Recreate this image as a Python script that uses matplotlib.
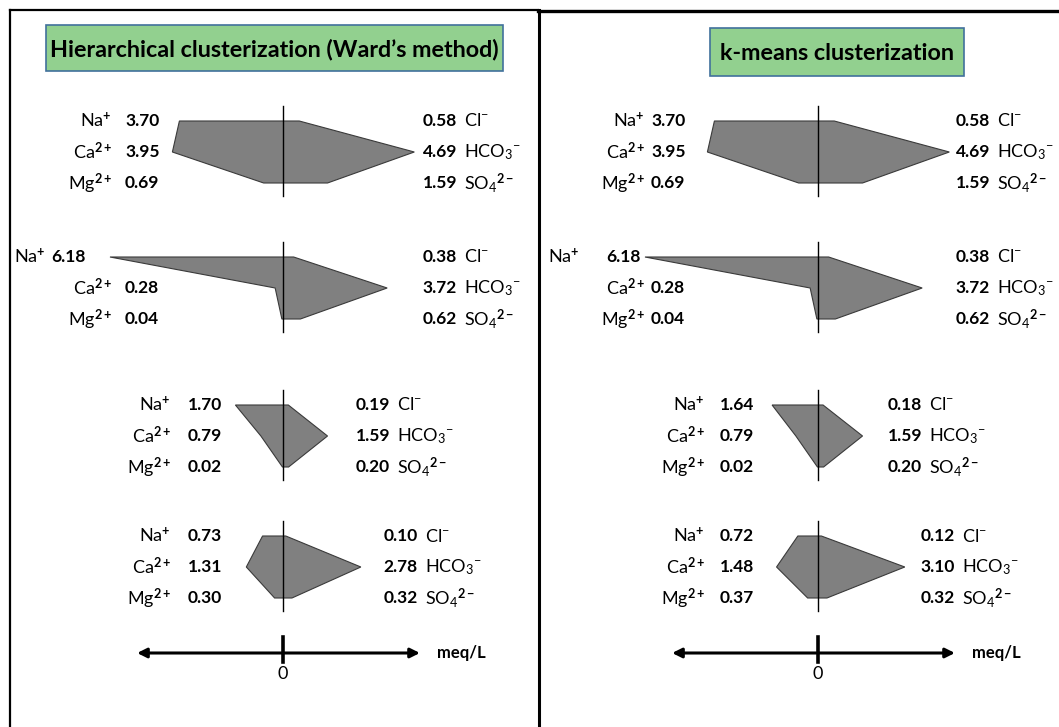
import numpy as np
import matplotlib.pyplot as plt
from matplotlib.patches import Polygon, Rectangle

plt.rcParams['font.family'] = ['Lato', 'DejaVu Sans']
plt.rcParams['mathtext.fontset'] = 'custom'
plt.rcParams['mathtext.rm'] = 'Lato'
plt.rcParams['mathtext.bf'] = 'Lato:bold'
plt.rcParams['mathtext.it'] = 'Lato:italic'

# Datos (meq/L) - Ward / k-means
titles = ["Hierarchical clusterization (Ward\u2019s method)", "k-means clusterization"]
cations = ["Na$^{\\mathbf{+}}$", "Ca$^{\\mathbf{2+}}$", "Mg$^{\\mathbf{2+}}$"]
anions = ["Cl$^{-}$", "HCO$_3$$^{-}$", "SO$_4$$^{\\mathbf{2-}}$"]

ward_na = [3.70, 6.18, 1.70, 0.73]
ward_ca = [3.95, 0.28, 0.79, 1.31]
ward_mg = [0.69, 0.04, 0.02, 0.30]
ward_cl = [0.58, 0.38, 0.19, 0.10]
ward_hco3 = [4.69, 3.72, 1.59, 2.78]
ward_so4 = [1.59, 0.62, 0.20, 0.32]

km_na = [3.70, 6.18, 1.64, 0.72]
km_ca = [3.95, 0.28, 0.79, 1.48]
km_mg = [0.69, 0.04, 0.02, 0.37]
km_cl = [0.58, 0.38, 0.18, 0.12]
km_hco3 = [4.69, 3.72, 1.59, 3.10]
km_so4 = [1.59, 0.62, 0.20, 0.32]

# Layout (pixeles)
W, H = 1059, 727
scale = 28.0  # px por meq/L
row_top = [121, 257, 405, 536]
row_gap = 31
panels = [
    dict(x0=0, x1=538, cx=283, data=(ward_na, ward_ca, ward_mg, ward_cl, ward_hco3, ward_so4),
         box=(46, 25, 503, 71),
         cat_lab=[-171, -171, -112, -112], cat_val=[-158, -158, -95, -95],
         an_val=[174, 174, 107, 135],
         na2=(-237, -232)),
    dict(x0=538, x1=1059, cx=818, data=(km_na, km_ca, km_mg, km_cl, km_hco3, km_so4),
         box=(710, 28, 964, 76),
         cat_lab=[-173, -173, -113, -113], cat_val=[-167, -167, -98, -98],
         an_val=[172, 172, 104, 137],
         na2=(-238, -212)),
]

fig = plt.figure(figsize=(W / 100, H / 100), dpi=100)

# fondo / bordes
bg = fig.add_axes([0, 0, 1, 1])
bg.set_xlim(0, W)
bg.set_ylim(H, 0)
bg.axis('off')
bg.plot([10, 10], [10, H], color='black', lw=1.6)
bg.plot([10, 538], [10, 10], color='black', lw=1.6)
bg.plot([538.5, 538.5], [10, H], color='black', lw=2.2)
bg.plot([538, W], [11, 11], color='black', lw=2.4)

for p, title in zip(panels, titles):
    ax = fig.add_axes([p['x0'] / W, 0, (p['x1'] - p['x0']) / W, 1])
    ax.set_xlim((p['x0'] - p['cx']) / scale, (p['x1'] - p['cx']) / scale)
    ax.set_ylim(H, 0)
    ax.axis('off')

    # caja del titulo
    bx0, by0, bx1, by1 = p['box']
    bg.add_patch(Rectangle((bx0, by0), bx1 - bx0, by1 - by0, facecolor='#92D08F',
                           edgecolor='#41719C', lw=1.2))
    bg.text((bx0 + bx1) / 2, (by0 + by1) / 2 + 1, title, ha='center', va='center',
            fontsize=16.8, fontweight='bold')

    na, ca, mg, cl, hco3, so4 = p['data']
    for i in range(4):
        y0 = row_top[i]
        ys = [y0, y0 + row_gap, y0 + 2 * row_gap]
        left = [na[i], ca[i], mg[i]]
        right = [cl[i], hco3[i], so4[i]]
        pts = [(-left[0], ys[0]), (-left[1], ys[1]), (-left[2], ys[2]),
               (right[2], ys[2]), (right[1], ys[1]), (right[0], ys[0])]
        ax.add_patch(Polygon(pts, closed=True, facecolor='#808080', edgecolor='#3a3a3a', lw=0.8))
        ax.plot([0, 0], [y0 - 15, ys[2] + 13], color='black', lw=1.0)

        for j in range(3):
            lab_x = p['cat_lab'][i] / scale
            val_x = p['cat_val'][i] / scale
            if i == 1 and j == 0:
                lab_x = p['na2'][0] / scale
                val_x = p['na2'][1] / scale
            ax.text(lab_x, ys[j], cations[j], ha='right', va='center', fontsize=13)
            ax.text(val_x, ys[j], f"{left[j]:.2f}", ha='left', va='center',
                    fontsize=12.5, fontweight='bold')
            ax.text(p['an_val'][i] / scale, ys[j], f"{right[j]:.2f}", ha='right', va='center',
                    fontsize=12.5, fontweight='bold')
            ax.text((p['an_val'][i] + 7) / scale, ys[j], anions[j], ha='left', va='center',
                    fontsize=13)

    # eje meq/L
    ax.annotate('', xy=(-5.21, 653), xytext=(4.89, 653),
                arrowprops=dict(arrowstyle='<|-|>', lw=2.2, color='black', mutation_scale=14,
                                shrinkA=0, shrinkB=0))
    ax.plot([0, 0], [637, 662], color='black', lw=2.6)
    ax.text(0, 674, '0', ha='center', va='center', fontsize=13)
    ax.text(5.5, 653, 'meq/L', ha='left', va='center', fontsize=12, fontweight='bold')

plt.savefig("out.png", dpi=100)
